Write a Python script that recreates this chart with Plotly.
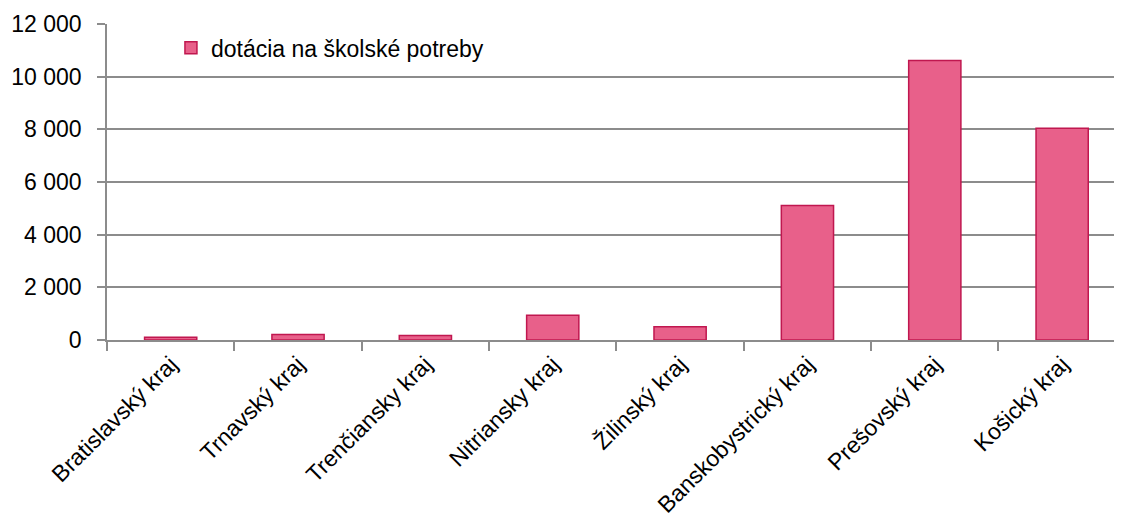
""" Dotácia na školské potreby podľa krajov """
import plotly.graph_objects as go

# categories and values
regions = [
    "Bratislavský kraj",
    "Trnavský kraj",
    "Trenčiansky kraj",
    "Nitriansky kraj",
    "Žilinský kraj",
    "Banskobystrický kraj",
    "Prešovský kraj",
    "Košický kraj",
]
dotacia = [100, 210, 175, 940, 500, 5110, 10610, 8045]
y_ticks = [0, 2000, 4000, 6000, 8000, 10000, 12000]

FONT = "Liberation Sans"
GRID = "#8c8c8c"

fig = go.Figure()
fig.add_trace(
    go.Bar(
        x=regions,
        y=dotacia,
        name="dotácia na školské potreby",
        width=0.41,
        marker=dict(color="#e8608a", line=dict(color="#c0174f", width=1.5)),
    )
)

# the page body has an 8px margin, so the figure is sized 8px smaller
fig.update_layout(
    width=1114,
    height=513,
    margin=dict(l=99, r=0, t=16, b=181),
    paper_bgcolor="white",
    plot_bgcolor="white",
    separators=", ",
    font=dict(family=FONT, size=23, color="black"),
    showlegend=True,
    legend=dict(
        x=0.063,
        y=0.993,
        xanchor="left",
        yanchor="top",
        bgcolor="rgba(0,0,0,0)",
        font=dict(family=FONT, size=23),
        itemwidth=30,
    ),
)
fig.update_xaxes(
    range=[-0.5, 7.47],
    automargin=False,
    tickangle=-45,
    tickson="boundaries",
    ticks="outside",
    ticklen=9,
    tickwidth=1.5,
    tickcolor=GRID,
    showline=True,
    linecolor=GRID,
    linewidth=1.5,
    showgrid=False,
    tickfont=dict(family=FONT, size=23),
)
fig.update_yaxes(
    range=[0, 12000],
    automargin=False,
    tickvals=y_ticks,
    tickformat=",d",
    ticks="outside",
    ticklen=8,
    tickwidth=1.5,
    tickcolor=GRID,
    ticklabelstandoff=11,
    showline=True,
    linecolor=GRID,
    linewidth=1.5,
    showgrid=True,
    gridcolor=GRID,
    gridwidth=1.5,
    zeroline=False,
    tickfont=dict(family=FONT, size=23),
)

fig.write_html("out.html")
